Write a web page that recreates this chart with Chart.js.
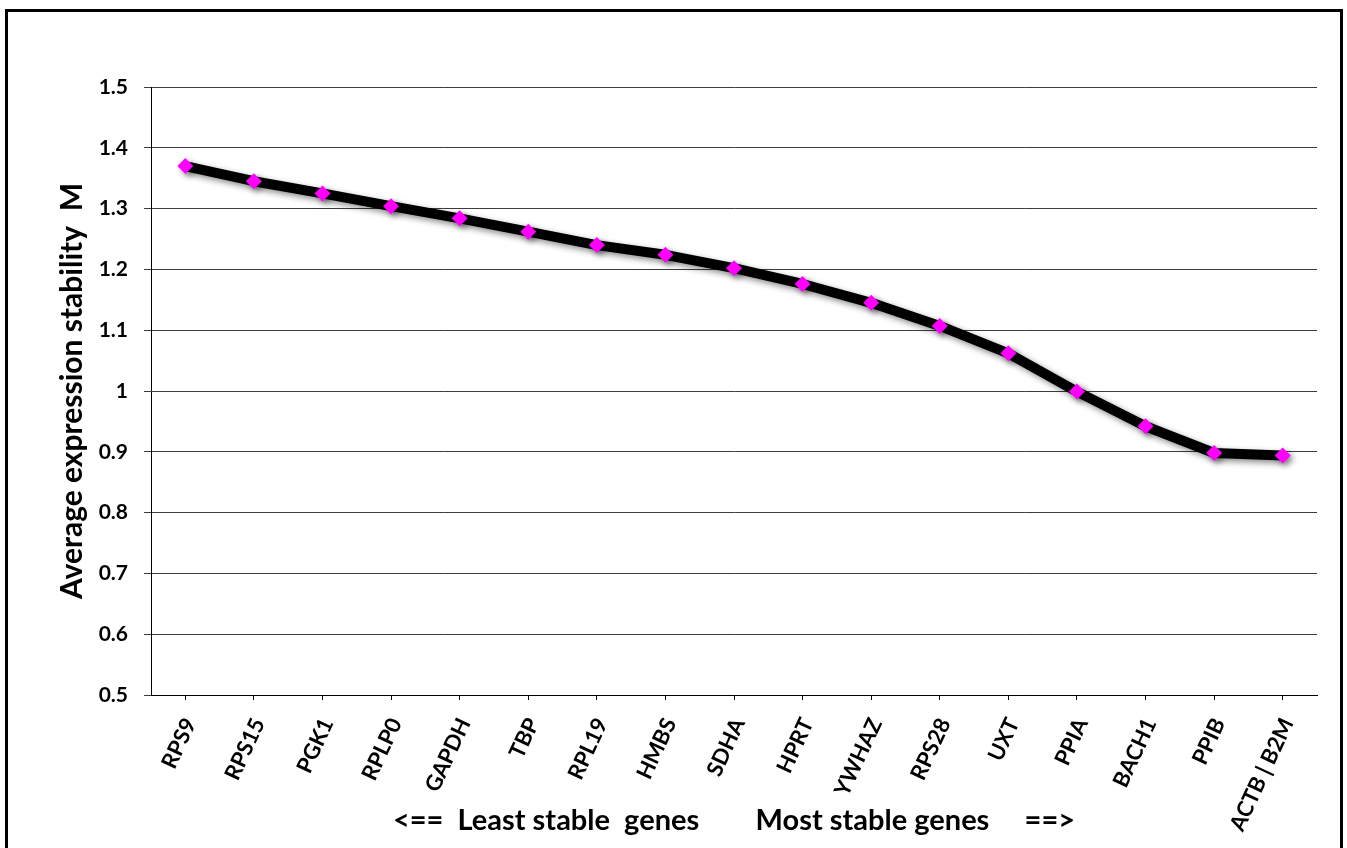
<!DOCTYPE html>
<html>
<head>
<meta charset="utf-8">
<script src="https://cdn.jsdelivr.net/npm/chart.js@4/dist/chart.umd.min.js"></script>
<style>
  html, body { margin: 0; padding: 0; background: #fff; overflow: hidden; }
  #wrap { position: absolute; left: 0; top: 0; width: 1347px; height: 848px; }
  #frame { position: absolute; left: 5px; top: 9px; width: 1338px; height: 870px;
           box-sizing: border-box; border: 3px solid #000; pointer-events: none; }
</style>
</head>
<body>
<div id="wrap"><canvas id="c" width="1347" height="848"></canvas></div>
<div id="frame"></div>
<script>
// Genes ordered from least stable to most stable
const genes = ['RPS9', 'RPS15', 'PGK1', 'RPLP0', 'GAPDH', 'TBP', 'RPL19', 'HMBS', 'SDHA',
               'HPRT', 'YWHAZ', 'RPS28', 'UXT', 'PPIA', 'BACH1', 'PPIB', 'ACTB | B2M'];

// Average expression stability M after each stepwise exclusion
const stabilityM = [1.370, 1.345, 1.325, 1.304, 1.284, 1.262, 1.240, 1.224, 1.202,
                    1.176, 1.145, 1.107, 1.062, 0.999, 0.942, 0.898, 0.894];

// Value axis ticks
const yTickValues = [0.5, 0.6, 0.7, 0.8, 0.9, 1.0, 1.1, 1.2, 1.3, 1.4, 1.5];
const yTickLabels = ['0.5', '0.6', '0.7', '0.8', '0.9', '1', '1.1', '1.2', '1.3', '1.4', '1.5'];

const yTitle = 'Average expression stability  M';
const xTitle = '<==  Least stable  genes        Most stable genes     ==>';

const FONT = 'Lato, "Open Sans", sans-serif';

// Soft drop shadow under the line and its markers
const lineShadow = {
  id: 'lineShadow',
  beforeDatasetDraw(chart) {
    const ctx = chart.ctx;
    ctx.save();
    ctx.shadowColor = 'rgba(0,0,0,0.45)';
    ctx.shadowBlur = 6;
    ctx.shadowOffsetX = 3;
    ctx.shadowOffsetY = 3;
  },
  afterDatasetDraw(chart) {
    chart.ctx.restore();
  }
};

new Chart(document.getElementById('c'), {
  type: 'line',
  data: {
    labels: genes,
    datasets: [{
      data: stabilityM,
      borderColor: '#000',
      borderWidth: 10,
      borderJoinStyle: 'round',
      tension: 0,
      fill: false,
      pointStyle: 'rectRot',
      pointRadius: 8,
      pointBackgroundColor: '#ff00ff',
      pointBorderColor: '#ff00ff',
      pointBorderWidth: 0
    }]
  },
  options: {
    responsive: false,
    animation: false,
    devicePixelRatio: 1,
    layout: { padding: { left: 0, top: 87, right: 30, bottom: 0 } },
    plugins: {
      legend: { display: false },
      tooltip: { enabled: false }
    },
    scales: {
      x: {
        type: 'category',
        offset: true,
        afterFit(scale) { scale.height = 153; },
        grid: {
          offset: false,
          drawOnChartArea: false,
          drawTicks: true,
          tickLength: 5,
          color: '#000',
          lineWidth: 1
        },
        border: { display: true, color: '#000', width: 1 },
        ticks: {
          autoSkip: false,
          minRotation: 65,
          maxRotation: 65,
          padding: 14,
          labelOffset: 5,
          color: '#000',
          font: { family: FONT, size: 22, weight: 'bold' }
        },
        title: {
          display: true,
          text: xTitle,
          color: '#000',
          font: { family: FONT, size: 29, weight: 'bold' },
          padding: { top: 0, bottom: 10 }
        }
      },
      y: {
        min: 0.5,
        max: 1.5,
        afterFit(scale) { scale.width = 151; },
        afterBuildTicks(scale) {
          scale.ticks = yTickValues.map(v => ({ value: v }));
        },
        grid: {
          color: '#3c3c3c',
          lineWidth: 1,
          drawTicks: true,
          tickLength: 7
        },
        border: { display: true, color: '#000', width: 1 },
        ticks: {
          padding: 16,
          color: '#000',
          font: { family: FONT, size: 21, weight: 'bold' },
          callback: (value, index) => yTickLabels[index]
        },
        title: {
          display: true,
          text: yTitle,
          color: '#000',
          font: { family: FONT, size: 30, weight: 'bold' },
          padding: { top: 54, bottom: 0 }
        }
      }
    }
  },
  plugins: [lineShadow]
});
</script>
</body>
</html>
